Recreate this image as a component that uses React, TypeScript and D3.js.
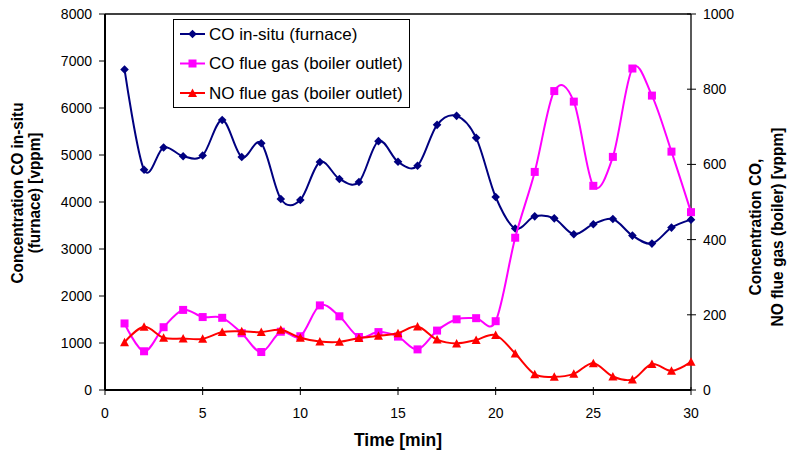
import React from "react";
import * as d3 from "d3";

const time = [1,2,3,4,5,6,7,8,9,10,11,12,13,14,15,16,17,18,19,20,21,22,23,24,25,26,27,28,29,30];
const coInSitu = [6820,4685,5160,4975,4990,5745,4958,5250,4064,4043,4851,4490,4425,5295,4855,4770,5642,5833,5365,4106,3435,3695,3652,3315,3528,3638,3285,3115,3455,3625];
const coFlue = [177,103,167,213,194,192,151,101,155,143,225,196,141,154,142,108,158,188,191,183,405,580,795,767,543,620,855,783,634,473];
const noFlue = [127,168,139,137,136,154,156,154,160,139,129,128,138,144,151,169,134,124,133,146,97,42,35,43,71,36,28,69,51,75];

const xTicks = [0,5,10,15,20,25,30];
const yLeftTicks = [0,1000,2000,3000,4000,5000,6000,7000,8000];
const yRightTicks = [0,200,400,600,800,1000];

const legendItems = [
  { label: "CO in-situ (furnace)", color: "#000080", marker: "diamond" },
  { label: "CO flue gas (boiler outlet)", color: "#FF00FF", marker: "square" },
  { label: "NO flue gas (boiler outlet)", color: "#FF0000", marker: "triangle" },
];

const FONT = "'Liberation Sans', Arial, Helvetica, sans-serif";

function Marker({ type, x, y, color }: { type: string; x: number; y: number; color: string }) {
  if (type === "diamond") {
    const r = 4.3;
    return <path d={`M${x},${y - r}L${x + r},${y}L${x},${y + r}L${x - r},${y}Z`} fill={color} />;
  }
  if (type === "square") {
    const s = 8;
    return <rect x={x - s / 2} y={y - s / 2} width={s} height={s} fill={color} />;
  }
  const w = 9, h = 8;
  return <path d={`M${x},${y - h / 2 - 0.5}L${x + w / 2},${y + h / 2}L${x - w / 2},${y + h / 2}Z`} fill={color} />;
}

export default function App() {
  const W = 787, H = 455;
  const left = 105, right = 691, top = 14, bottom = 390;
  const x = d3.scaleLinear().domain([0, 30]).range([left, right]);
  const yL = d3.scaleLinear().domain([0, 8000]).range([bottom, top]);
  const yR = d3.scaleLinear().domain([0, 1000]).range([bottom, top]);
  const curve = d3.curveCatmullRom.alpha(0);

  const series = [
    { data: coInSitu, scale: yL, ...legendItems[0] },
    { data: coFlue, scale: yR, ...legendItems[1] },
    { data: noFlue, scale: yR, ...legendItems[2] },
  ];

  return (
    <svg width={W} height={H} style={{ position: "absolute", left: 0, top: 0, background: "#fff" }} fontFamily={FONT}>
      <rect x={0} y={0} width={W} height={H} fill="#fff" />
      {/* plot frame */}
      <line x1={left} x2={right} y1={top} y2={top} stroke="#000" strokeWidth={1.3} />
      <line x1={left} x2={left} y1={top} y2={bottom} stroke="#000" strokeWidth={2} />
      <line x1={right} x2={right} y1={top} y2={bottom} stroke="#000" strokeWidth={1.3} />
      <line x1={left} x2={right} y1={bottom} y2={bottom} stroke="#000" strokeWidth={2} />

      {/* left axis */}
      {yLeftTicks.map((t) => (
        <g key={"l" + t}>
          <line x1={left - 6} x2={left} y1={yL(t)} y2={yL(t)} stroke="#000" strokeWidth={1} />
          <text x={92} y={yL(t)} textAnchor="end" dominantBaseline="central" fontSize={14} fill="#000">{t}</text>
        </g>
      ))}
      {/* right axis */}
      {yRightTicks.map((t) => (
        <g key={"r" + t}>
          <line x1={right - 4} x2={right + 5} y1={yR(t)} y2={yR(t)} stroke="#000" strokeWidth={1} />
          <text x={703} y={yR(t)} textAnchor="start" dominantBaseline="central" fontSize={14} fill="#000">{t}</text>
        </g>
      ))}
      {/* bottom axis */}
      {xTicks.map((t) => (
        <g key={"b" + t}>
          <line x1={x(t)} x2={x(t)} y1={bottom - 3} y2={bottom + 5} stroke="#000" strokeWidth={1} />
          <text x={x(t)} y={412.5} textAnchor="middle" dominantBaseline="central" fontSize={14} fill="#000">{t}</text>
        </g>
      ))}

      {/* axis titles */}
      <text x={398} y={446} textAnchor="middle" fontSize={17.5} fontWeight="bold" fill="#000">Time [min]</text>
      <g transform="translate(17,193) rotate(-90) scale(1,1.1)">
        <text x={0} y={0} textAnchor="middle" dominantBaseline="central" fontSize={15.3} fontWeight="bold" fill="#000">Concentration CO in-situ</text>
      </g>
      <g transform="translate(34,193) rotate(-90) scale(1,1.1)">
        <text x={0} y={0} textAnchor="middle" dominantBaseline="central" fontSize={15.3} fontWeight="bold" fill="#000">(furnace) [vppm]</text>
      </g>
      <g transform="translate(755,227) rotate(-90) scale(1,1.1)">
        <text x={0} y={0} textAnchor="middle" dominantBaseline="central" fontSize={15.5} fontWeight="bold" fill="#000">Concentration CO,</text>
      </g>
      <g transform="translate(777,227) rotate(-90) scale(1,1.1)">
        <text x={0} y={0} textAnchor="middle" dominantBaseline="central" fontSize={15.5} fontWeight="bold" fill="#000">NO flue gas (boiler) [vppm]</text>
      </g>

      {/* series */}
      {series.map((s) => {
        const line = d3.line<number>().x((_, i) => x(time[i])).y((d) => s.scale(d)).curve(curve);
        return (
          <g key={s.label}>
            <path d={line(s.data) || ""} fill="none" stroke={s.color} strokeWidth={2} />
            {s.data.map((d, i) => (
              <Marker key={i} type={s.marker} x={x(time[i])} y={s.scale(d)} color={s.color} />
            ))}
          </g>
        );
      })}

      {/* legend */}
      <rect x={173.5} y={19.5} width={236} height={88} fill="#fff" stroke="#000" strokeWidth={1} />
      {legendItems.map((it, i) => {
        const ly = 34 + i * 29.5;
        return (
          <g key={it.label}>
            <line x1={180} x2={205} y1={ly} y2={ly} stroke={it.color} strokeWidth={2} />
            <Marker type={it.marker} x={192.5} y={ly} color={it.color} />
            <text x={209} y={ly} dominantBaseline="central" fontSize={17} fill="#000">{it.label}</text>
          </g>
        );
      })}
    </svg>
  );
}
